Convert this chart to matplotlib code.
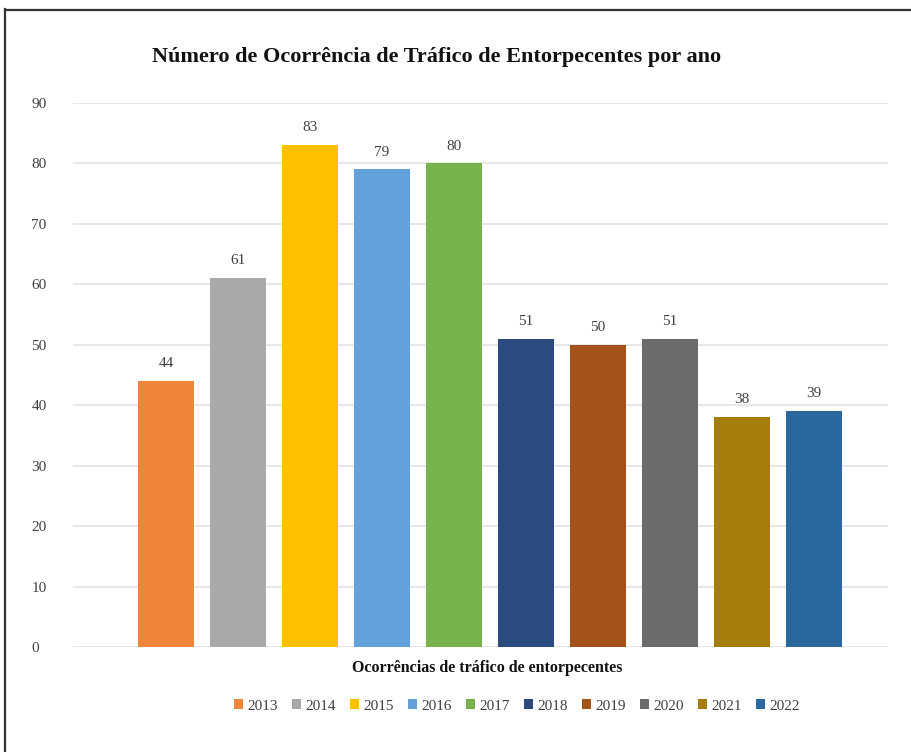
import matplotlib.pyplot as plt
from matplotlib.lines import Line2D

# data
years = ["2013", "2014", "2015", "2016", "2017", "2018", "2019", "2020", "2021", "2022"]
ocorrencias = [44, 61, 83, 79, 80, 51, 50, 51, 38, 39]
colors = ["#EE8538", "#A9A9A9", "#FFC000", "#62A1DB", "#78B24C",
          "#2B4B80", "#A5511A", "#6B6B6B", "#A47D0B", "#2A679C"]

plt.rcParams['font.family'] = ['Liberation Serif', 'DejaVu Serif']

fig = plt.figure(figsize=(9.12, 7.52), dpi=100)
ax = fig.add_axes([73/912, 1 - 647/752, (888-73)/912, (647-103)/752])

for i, (yr, val, col) in enumerate(zip(years, ocorrencias, colors)):
    ax.bar(i, val, width=0.78, color=col, label=yr, zorder=3)
    ax.text(i, val + 1.8, str(val), ha='center', va='bottom',
            fontsize=11, color='#404040')

ax.set_ylim(0, 90)
ax.set_xlim(-1.29, 10.03)
ax.set_yticks(range(0, 91, 10))
ax.tick_params(axis='y', length=0, pad=30, labelsize=11, labelcolor='#404040')
ax.set_xticks([])
ax.grid(axis='y', color='#E3E3E3', linewidth=1.2, zorder=0)
for s in ax.spines.values():
    s.set_visible(False)
for lbl in ax.get_yticklabels():
    lbl.set_horizontalalignment('left')

fig.text(437/912, 1 - 57/752, "Número de Ocorrência de Tráfico de Entorpecentes por ano",
         ha='center', va='center', fontsize=16, fontweight='bold', color='#111111')
fig.text(487/912, 1 - 668/752, "Ocorrências de tráfico de entorpecentes",
         ha='center', va='center', fontsize=11.5, fontweight='bold', color='#111111')

fig.legend(loc='center', bbox_to_anchor=(517/912, 1 - 706/752), ncol=10,
           frameon=False, fontsize=11, handlelength=0.6, handleheight=0.6,
           handletextpad=0.3, columnspacing=0.9, labelcolor='#404040')

# frame lines (top and left only)
fig.add_artist(Line2D([5/912, 1], [1 - 9.5/752, 1 - 9.5/752], color='#333333', linewidth=1.6))
fig.add_artist(Line2D([5.5/912, 5.5/912], [0, 1 - 9/752], color='#333333', linewidth=1.6))

fig.savefig("out.png", dpi=100)
